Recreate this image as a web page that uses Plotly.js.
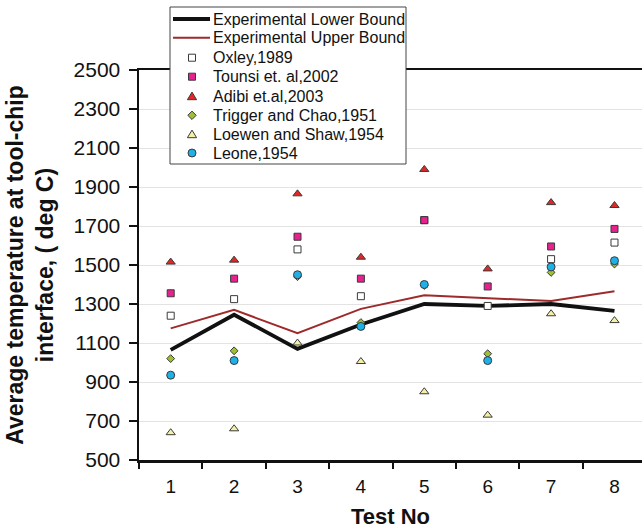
<!DOCTYPE html>
<html><head><meta charset="utf-8">
<script src="https://cdn.plot.ly/plotly-3.0.1.min.js"></script>
<style>html,body{margin:0;padding:0;background:#fff}#chart{width:642px;height:529px}</style>
</head><body><div id="chart"></div>
<script>
// ---- data ----
const tests   = ['1','2','3','4','5','6','7','8'];
const expLower = [1065,1245,1070,1195,1300,1290,1300,1265];
const expUpper = [1175,1270,1150,1275,1345,1330,1315,1365];
const oxley    = [1240,1325,1580,1340,1730,1290,1530,1615];
const tounsi   = [1355,1430,1645,1430,1730,1390,1595,1685];
const adibi    = [1515,1525,1865,1540,1990,1480,1820,1805];
const trigger  = [1020,1060,1440,1205,1395,1045,1462,1505];
const loewen   = [640,660,1100,1005,850,730,1250,1215];
const leone    = [935,1010,1450,1185,1400,1010,1490,1522];
const seriesNames = ['Experimental Lower Bound','Experimental Upper Bound','Oxley,1989',
  'Tounsi et. al,2002','Adibi et.al,2003','Trigger and Chao,1951','Loewen and Shaw,1954','Leone,1954'];
const yTicks = [500,700,900,1100,1300,1500,1700,1900,2100,2300,2500];

// ---- styles ----
const FONT = 'Liberation Sans, Arial, sans-serif';
const EDGE = '#3a3a3a';
const styles = {
  lower:  {color:'#111111', width:3.8},
  upper:  {color:'#9e2a2b', width:2},
  oxley:  {symbol:'square', color:'#ffffff', size:7},
  tounsi: {symbol:'square', color:'#e5228f', size:7},
  adibi:  {symbol:'triangle-up', color:'#e32626', size:8},
  trigger:{symbol:'diamond', color:'#9fbf35', size:6},
  loewen: {symbol:'triangle-up', color:'#f4f0a8', size:8},
  leone:  {symbol:'circle', color:'#1eb0e6', size:8}
};

function lineTrace(name, y, st){
  return {type:'scatter', mode:'lines', x:tests, y:y, name:name, showlegend:false,
    line:{color:st.color, width:st.width}, hoverinfo:'x+y+name'};
}
function markTrace(name, y, st){
  return {type:'scatter', mode:'markers', x:tests, y:y, name:name, showlegend:false,
    marker:{symbol:st.symbol, color:st.color, size:st.size, line:{color:EDGE, width:1}},
    hoverinfo:'x+y+name'};
}
const data = [
  lineTrace(seriesNames[0], expLower, styles.lower),
  lineTrace(seriesNames[1], expUpper, styles.upper),
  markTrace(seriesNames[2], oxley, styles.oxley),
  markTrace(seriesNames[3], tounsi, styles.tounsi),
  markTrace(seriesNames[4], adibi, styles.adibi),
  markTrace(seriesNames[5], trigger, styles.trigger),
  markTrace(seriesNames[6], loewen, styles.loewen),
  markTrace(seriesNames[7], leone, styles.leone)
];

// ---- custom legend (layout positions in pixels -> paper coords) ----
const L=139, T=70, W=503, H=390;
const px = v => (v-L)/W;
const py = v => (T+H-v)/H;
const rows = [19,37.7,57.7,76.7,96.7,115.3,134.7,153];
const symX = 192, txtX = 211;
const shapes = [{type:'rect', xref:'paper', yref:'paper', x0:px(170), x1:px(406), y0:py(164), y1:py(7),
  fillcolor:'#ffffff', line:{color:'#444444', width:1}, layer:'above'}];
shapes.push({type:'line', xref:'paper', yref:'paper', x0:px(173), x1:px(210), y0:py(rows[0]), y1:py(rows[0]),
  line:{color:styles.lower.color, width:styles.lower.width}, layer:'above'});
shapes.push({type:'line', xref:'paper', yref:'paper', x0:px(173), x1:px(210), y0:py(rows[1]), y1:py(rows[1]),
  line:{color:styles.upper.color, width:styles.upper.width}, layer:'above'});
function pathFrom(pts){
  return 'M ' + pts.map(p => px(p[0]).toFixed(5) + ' ' + py(p[1]).toFixed(5)).join(' L ') + ' Z';
}
function symShape(st, row){
  const cx = symX, cy = row;
  const base = {xref:'paper', yref:'paper', fillcolor:st.color, line:{color:EDGE, width:1}, layer:'above'};
  if (st.symbol==='square') return Object.assign(base,{type:'rect', x0:px(cx-3.5), x1:px(cx+3.5), y0:py(cy+3.5), y1:py(cy-3.5)});
  if (st.symbol==='circle') return Object.assign(base,{type:'circle', x0:px(cx-4), x1:px(cx+4), y0:py(cy+4), y1:py(cy-4)});
  if (st.symbol==='diamond') return Object.assign(base,{type:'path', path:pathFrom([[cx-4.2,cy],[cx,cy-4.2],[cx+4.2,cy],[cx,cy+4.2]])});
  return Object.assign(base,{type:'path', path:pathFrom([[cx-4.6,cy+3],[cx+4.6,cy+3],[cx,cy-4.6]])});
}
[styles.oxley, styles.tounsi, styles.adibi, styles.trigger, styles.loewen, styles.leone]
  .forEach((st,i)=>shapes.push(symShape(st, rows[i+2])));
const annotations = seriesNames.map((nm,i)=>({xref:'paper', yref:'paper', x:px(txtX), y:py(rows[i]),
  xanchor:'left', yanchor:'middle', text:nm, showarrow:false, font:{family:FONT, size:16, color:'#111'}}));

const layout = {
  width:642, height:529,
  margin:{l:L, r:0, t:T, b:529-T-H, pad:0},
  paper_bgcolor:'#ffffff', plot_bgcolor:'#ffffff',
  font:{family:FONT, color:'#111'},
  showlegend:false,
  xaxis:{type:'category', range:[-0.5, 7.434], tickson:'boundaries', ticks:'outside', ticklen:6,
    tickwidth:2, tickcolor:'#111', showline:true, linewidth:2.5, linecolor:'#111', mirror:true,
    showgrid:false, zeroline:false, tickfont:{size:19, color:'#111'}, ticklabelstandoff:8,
    title:{text:'Test No', font:{size:22, weight:'bold', color:'#111'}, standoff:13}},
  yaxis:{range:[500,2500], tickvals:yTicks, ticks:'outside', ticklen:8, tickwidth:2, tickcolor:'#111',
    showline:true, linewidth:2.5, linecolor:'#111', showgrid:true, gridcolor:'#e3e3e3', gridwidth:1,
    zeroline:false, tickfont:{size:21, color:'#111'}, ticklabelstandoff:4,
    title:{text:'Average temperature at tool-chip<br>interface, ( deg C)', font:{size:23, weight:'bold', color:'#111'}, standoff:14}},
  shapes:shapes, annotations:annotations
};
Plotly.newPlot('chart', data, layout, {displayModeBar:false, staticPlot:true});
</script></body></html>
